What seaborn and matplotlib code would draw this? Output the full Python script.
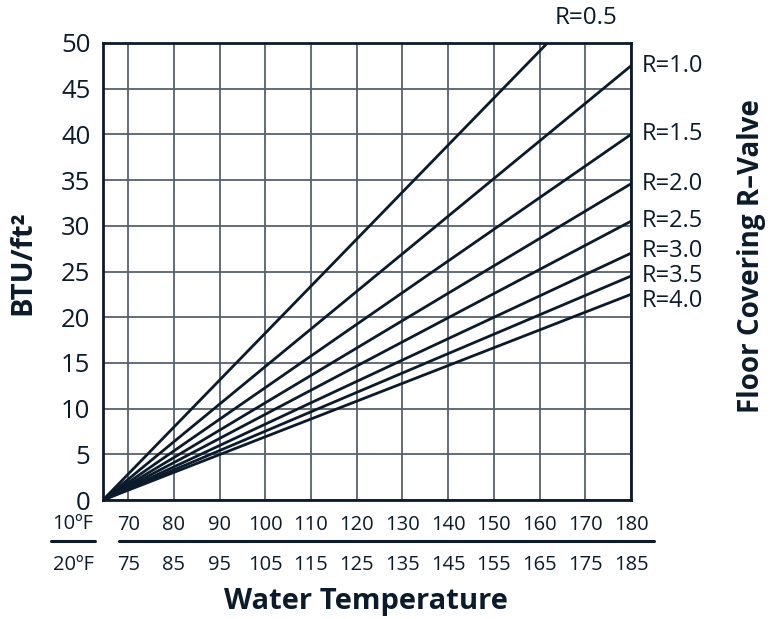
import matplotlib
matplotlib.use("Agg")
import matplotlib.pyplot as plt
import seaborn as sns
import pandas as pd
from matplotlib.lines import Line2D

# ---- data ----
r_values = ["R=0.5", "R=1.0", "R=1.5", "R=2.0", "R=2.5", "R=3.0", "R=3.5", "R=4.0"]
temp_start = 64.5
temp_end = 180
btu_at_start = [0, 0, 0, 0, 0, 0, 0, 0]
btu_at_end = [59.4, 47.5, 40.0, 34.6, 30.5, 27.0, 24.5, 22.5]
ticks_10F = [70, 80, 90, 100, 110, 120, 130, 140, 150, 160, 170, 180]
labels_20F = [75, 85, 95, 105, 115, 125, 135, 145, 155, 165, 175, 185]
y_ticks = [0, 5, 10, 15, 20, 25, 30, 35, 40, 45, 50]
# small vertical nudges (points) so the crowded labels do not collide
label_nudge = [0, 0, 0, 0, 0, 1.5, 0, -5]

rows = []
for r, y0, y1 in zip(r_values, btu_at_start, btu_at_end):
    rows.append({"R": r, "temp": temp_start, "btu": y0})
    rows.append({"R": r, "temp": temp_end, "btu": y1})
df = pd.DataFrame(rows)

sns.set_theme(style="white")
plt.rcParams["font.family"] = ["Open Sans", "DejaVu Sans"]

DARK = "#0b1b2b"
GRID = "#56616c"

fig = plt.figure(figsize=(7.73, 6.19), dpi=100)
ax = fig.add_axes([103 / 773, 1 - 500 / 619, 528 / 773, 457 / 619])

sns.lineplot(data=df, x="temp", y="btu", units="R", estimator=None,
             color=DARK, linewidth=2.0, ax=ax, legend=False, zorder=3)

ax.set_xlim(temp_start, temp_end)
ax.set_ylim(0, 50)
ax.set_xticks(ticks_10F)
ax.set_xticklabels([str(t) for t in ticks_10F])
ax.set_yticks(y_ticks)
ax.set_yticklabels([str(t) for t in y_ticks])
ax.grid(True, color=GRID, linewidth=1.3)
ax.set_axisbelow(True)
for s in ax.spines.values():
    s.set_color(DARK)
    s.set_linewidth(2.0)
ax.tick_params(axis="both", length=0, colors=DARK)
ax.tick_params(axis="y", labelsize=18.5, pad=9)
ax.tick_params(axis="x", labelsize=14.5, pad=11)
ax.set_xlabel("")
ax.set_ylabel("")

# second row of x labels (20°F)
trans = ax.get_xaxis_transform()
for t, lab in zip(ticks_10F, labels_20F):
    ax.text(t, -0.142, str(lab), transform=trans, ha="center", va="center",
            fontsize=14.5, color=DARK)

# left side labels and rules
fig.text(73 / 773, 1 - 524 / 619, "10ºF", ha="center", va="center", fontsize=14.5, color=DARK)
fig.text(73 / 773, 1 - 565 / 619, "20ºF", ha="center", va="center", fontsize=14.5, color=DARK)
fig.add_artist(Line2D([51 / 773, 95 / 773], [1 - 541 / 619] * 2, color=DARK, linewidth=2.2))
fig.add_artist(Line2D([119 / 773, 654 / 773], [1 - 541 / 619] * 2, color=DARK, linewidth=2.2))

# R labels
for r, y1, dy in zip(r_values[1:], btu_at_end[1:], label_nudge[1:]):
    ax.annotate(r, xy=(temp_end, y1), xytext=(8, dy), textcoords="offset points",
                ha="left", va="center", fontsize=17, color=DARK, annotation_clip=False)
ax.text(0.915, 1.055, r_values[0], transform=ax.transAxes, ha="center", va="center",
        fontsize=17.5, color=DARK)

# axis titles
fig.text(366 / 773, 1 - 602 / 619, "Water Temperature", ha="center", va="center",
         fontsize=21, fontweight="bold", color=DARK)
fig.text(23 / 773, 1 - 263 / 619, "BTU/ft²", ha="center", va="center", rotation=90,
         fontsize=21, fontweight="bold", color=DARK)
fig.text(752 / 773, 1 - 256 / 619, "Floor Covering R–Valve", ha="center", va="center",
         rotation=90, fontsize=20, fontweight="bold", color=DARK)

fig.savefig("out.png", dpi=100)
